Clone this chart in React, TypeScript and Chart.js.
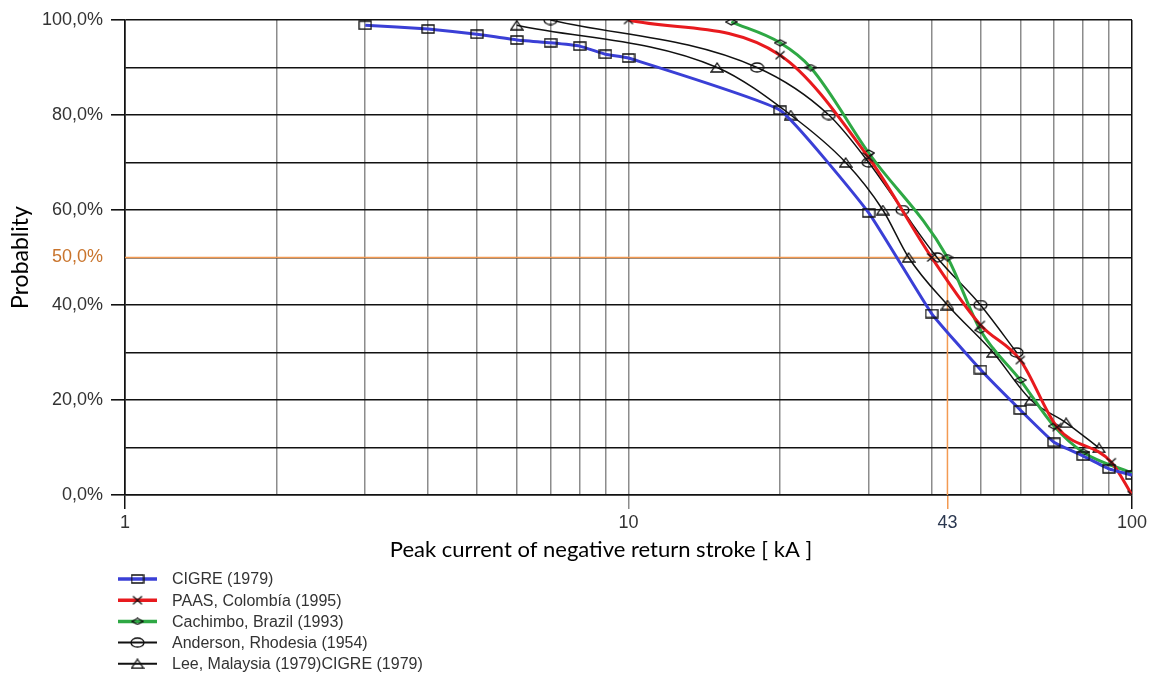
import { useEffect, useRef } from 'react';
import { Chart, registerables } from 'chart.js';

Chart.register(...registerables);

// ---- data (kA, %) ----
const X_GRID = [1, 2, 3, 4, 5, 6, 7, 8, 9, 10, 20, 30, 40, 50, 60, 70, 80, 90, 100];
const X_LABELED = [1, 10, 43, 100];
const Y_GRID = [0, 10, 20, 30, 40, 50, 60, 70, 80, 90, 100];
const Y_LABELED = [0, 20, 40, 50, 60, 80, 100];
const REF_CURRENT = 43;
const REF_PROB = 50;

const CIGRE_X = [3, 4, 5, 6, 7, 8, 9, 10, 20, 30, 40, 50, 60, 70, 80, 90, 100];
const CIGRE_Y = [98.9, 98.1, 97.0, 95.8, 95.2, 94.5, 92.8, 92.0, 81.0, 59.4, 38.2, 26.4, 17.9, 11.1, 8.2, 5.5, 4.2];

const PAAS_X = [10, 20, 30, 40, 50, 60, 71, 91, 100];
const PAAS_Y = [100, 92.6, 71, 50, 35.8, 28.4, 14.3, 6.9, 0];

const CACHIMBO_X = [16, 20, 23, 30, 43, 50, 60, 70, 80, 100];
const CACHIMBO_Y = [99.6, 95.2, 90, 72, 50, 34.7, 24.2, 14.5, 9, 4.6];

const ANDERSON_X = [7, 18, 25, 30, 35, 41, 50, 59];
const ANDERSON_Y = [100, 90, 80, 70, 60, 50, 40, 30];

const LEE_X = [6, 15, 21, 27, 32, 36, 43, 53, 63, 74, 86];
const LEE_Y = [98.9, 90, 80, 70, 60, 50, 40, 30, 20, 15.2, 9.9];

const SERIES_NAMES = [
  'CIGRE (1979)',
  'PAAS, Colombía (1995)',
  'Cachimbo, Brazil (1993)',
  'Anderson, Rhodesia (1954)',
  'Lee, Malaysia (1979)CIGRE (1979)',
];
const SERIES_COLORS = ['#3a3fd6', '#e81a1e', '#2ea844', '#111111', '#111111'];
const SERIES_WIDTHS = [3, 3, 3, 1.5, 1.5];
const SERIES_MARKERS = ['square', 'cross', 'diamond', 'ellipse', 'triangle'];
const SERIES_SMOOTH = ['tension', 'monotone', 'monotone', 'monotone', 'monotone'];

const X_TITLE = 'Peak current of negative return stroke [ kA ]';
const Y_TITLE = 'Probablity';

const ORANGE = '#f39a52';
const ORANGE_TEXT = '#c9742c';

function makeMarker(kind: string): HTMLCanvasElement {
  const dims: Record<string, [number, number]> = {
    square: [14, 10],
    cross: [12, 11],
    diamond: [13, 8],
    ellipse: [15, 11],
    triangle: [14, 11],
  };
  const [w, h] = dims[kind];
  const c = document.createElement('canvas');
  c.width = w;
  c.height = h;
  const g = c.getContext('2d')!;
  g.strokeStyle = '#111';
  g.lineWidth = 1.3;
  g.beginPath();
  if (kind === 'square') {
    g.rect(1, 1, w - 2, h - 2);
  } else if (kind === 'cross') {
    g.moveTo(1.5, 1.5);
    g.lineTo(w - 1.5, h - 1.5);
    g.moveTo(w - 1.5, 1.5);
    g.lineTo(1.5, h - 1.5);
  } else if (kind === 'diamond') {
    g.moveTo(1, h / 2);
    g.lineTo(w / 2, 1);
    g.lineTo(w - 1, h / 2);
    g.lineTo(w / 2, h - 1);
    g.closePath();
  } else if (kind === 'ellipse') {
    g.ellipse(w / 2, h / 2, w / 2 - 1, h / 2 - 1, 0, 0, Math.PI * 2);
  } else {
    g.moveTo(w / 2, 1);
    g.lineTo(w - 1, h - 1);
    g.lineTo(1, h - 1);
    g.closePath();
  }
  g.stroke();
  return c;
}

export default function App() {
  const ref = useRef<HTMLCanvasElement | null>(null);

  useEffect(() => {
    if (!ref.current) return;
    const markers = SERIES_MARKERS.map(makeMarker);
    const xs = [CIGRE_X, PAAS_X, CACHIMBO_X, ANDERSON_X, LEE_X];
    const ys = [CIGRE_Y, PAAS_Y, CACHIMBO_Y, ANDERSON_Y, LEE_Y];

    const datasets: any[] = SERIES_NAMES.map((name, i) => {
      const ds: any = {
        label: name,
        data: xs[i].map((x, j) => ({ x, y: ys[i][j] })),
        borderColor: SERIES_COLORS[i],
        borderWidth: SERIES_WIDTHS[i],
        pointStyle: markers[i],
        pointRadius: 5,
        pointHoverRadius: 5,
        fill: false,
      };
      if (SERIES_SMOOTH[i] === 'monotone') ds.cubicInterpolationMode = 'monotone';
      else ds.tension = 0.12;
      return ds;
    });
    datasets.push({
      label: 'ref',
      data: [
        { x: X_GRID[0], y: REF_PROB },
        { x: REF_CURRENT, y: REF_PROB },
        { x: REF_CURRENT, y: Y_GRID[0] },
      ],
      borderColor: ORANGE,
      borderWidth: 1.5,
      pointRadius: 0,
      tension: 0,
      fill: false,
    });

    const overlay = {
      id: 'legendAndTitle',
      afterDraw(chart: any) {
        const ctx = chart.ctx as CanvasRenderingContext2D;
        ctx.save();
        ctx.fillStyle = '#000';
        ctx.font = '22px Lato';
        ctx.textAlign = 'center';
        ctx.textBaseline = 'middle';
        ctx.fillText(X_TITLE, 601, 550);

        ctx.font = '16px "Liberation Sans"';
        ctx.textAlign = 'left';
        SERIES_NAMES.forEach((name, i) => {
          const y = 579 + i * 21.2;
          ctx.strokeStyle = SERIES_COLORS[i];
          ctx.lineWidth = SERIES_WIDTHS[i] + 0.5;
          ctx.beginPath();
          ctx.moveTo(118, y);
          ctx.lineTo(157, y);
          ctx.stroke();
          const m = markers[i];
          ctx.drawImage(m, 137.5 - m.width / 2, y - m.height / 2);
          ctx.fillStyle = '#333';
          ctx.fillText(name, 172, y + 1);
        });
        ctx.restore();
      },
    };

    const chart = new Chart(ref.current, {
      type: 'line',
      data: { datasets },
      plugins: [overlay],
      options: {
        animation: false,
        responsive: false,
        devicePixelRatio: 1,
        layout: { padding: { left: 0, right: 23, top: 20, bottom: 118 } },
        plugins: { legend: { display: false }, tooltip: { enabled: false } },
        scales: {
          x: {
            type: 'logarithmic',
            min: 1,
            max: 100,
            afterBuildTicks: (s: any) => {
              s.ticks = [...X_GRID, REF_CURRENT].sort((a, b) => a - b).map((v) => ({ value: v }));
            },
            afterFit: (s: any) => {
              s.height = 60;
            },
            ticks: {
              autoSkip: false,
              maxRotation: 0,
              minRotation: 0,
              padding: 3,
              font: { family: 'Liberation Sans', size: 18 },
              color: (c: any) => (c.tick && c.tick.value === REF_CURRENT ? '#2b3850' : '#333'),
              callback: (v: any) => (X_LABELED.includes(Number(v)) ? String(v) : ''),
            },
            grid: {
              lineWidth: 1.5,
              tickLength: 14,
              color: (c: any) => {
                const v = c.tick ? c.tick.value : 0;
                if (v === REF_CURRENT) return 'rgba(0,0,0,0)';
                if (v === 100 || v === 1) return '#111';
                return '#8c8c8c';
              },
              tickColor: (c: any) => {
                const v = c.tick ? c.tick.value : 0;
                if (v === 1 || v === 100) return '#111';
                if (v === 10) return '#8c8c8c';
                if (v === REF_CURRENT) return ORANGE;
                return 'rgba(0,0,0,0)';
              },
            },
            border: { display: true, color: '#111', width: 1.5 },
          },
          y: {
            type: 'linear',
            min: 0,
            max: 100,
            afterBuildTicks: (s: any) => {
              s.ticks = Y_GRID.map((v) => ({ value: v }));
            },
            afterFit: (s: any) => {
              s.width = 125;
            },
            ticks: {
              autoSkip: false,
              padding: 8,
              font: { family: 'Liberation Sans', size: 18 },
              color: (c: any) => (c.tick && c.tick.value === REF_PROB ? ORANGE_TEXT : '#333'),
              callback: (v: any) => (Y_LABELED.includes(Number(v)) ? `${v},0%` : ''),
            },
            grid: {
              lineWidth: 1.6,
              tickLength: 14,
              color: '#111',
              tickColor: (c: any) => {
                const v = c.tick ? c.tick.value : -1;
                return Y_LABELED.includes(v) && v !== REF_PROB ? '#111' : 'rgba(0,0,0,0)';
              },
            },
            border: { display: true, color: '#111', width: 1.5 },
            title: {
              display: true,
              text: Y_TITLE,
              color: '#000',
              font: { family: 'Lato', size: 23 },
              padding: { top: 7, bottom: 0 },
            },
          },
        },
      } as any,
    });
    return () => chart.destroy();
  }, []);

  return (
    <div style={{ position: 'absolute', left: 0, top: 0, width: 1155, height: 673, background: '#fff' }}>
      <canvas ref={ref} width={1155} height={673} style={{ display: 'block' }} />
    </div>
  );
}
